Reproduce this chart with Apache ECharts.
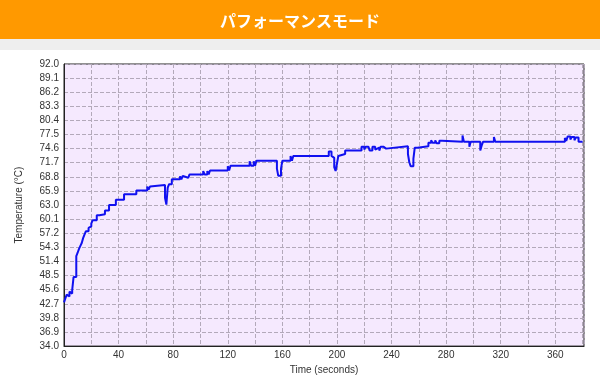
<!DOCTYPE html>
<html>
<head>
<meta charset="utf-8">
<script src="https://cdn.jsdelivr.net/npm/echarts@6/dist/echarts.min.js"></script>
<style>
html,body{margin:0;padding:0;background:#fff;}
#c{width:600px;height:380px;}
</style>
</head>
<body>
<div id="c"></div>
<script>
var titleText = 'パフォーマンスモード';
var xName = 'Time (seconds)';
var yName = 'Temperature (°C)';
var yTickLabels = ['34.0','36.9','39.8','42.7','45.6','48.5','51.4','54.3','57.2','60.1','63.0','65.9','68.8','71.7','74.6','77.5','80.4','83.3','86.2','89.1','92.0'];
var xTicks = [0,40,80,120,160,200,240,280,320,360];

var times = [0,1,2,3,4,5,6,7,9,10,11,12,13,14,15,16,18,19,20,21,24,26,30,33,38,44,53,61,62,63,64,74,75,76,77,79,85,86,87,88,91,92,102,103,105,106,107,120,121,122,136,137,139,140,141,156,157,159,160,166,167,168,194,196,197,198,199,200,201,202,206,218,220,221,223,224,226,228,229,231,232,234,236,237,252,253,254,256,257,259,267,269,270,272,273,275,277,292,293,297,298,305,306,307,315,316,367,368,369,371,372,374,375,377,380];
var temps = [43.0,43.8,44.6,44.2,45.2,44.8,45.5,48.2,52.5,53.2,54.0,54.6,55.2,56.2,56.9,57.6,58.3,58.6,59.2,59.9,60.9,61.1,61.9,63.0,64.1,65.2,66.0,66.8,66.2,66.8,67.1,64.5,63.1,66.6,67.3,68.3,68.9,68.3,69.0,68.6,69.0,69.3,70.0,69.3,70.0,69.3,70.1,71.0,70.1,71.1,72.0,71.1,72.0,71.1,72.1,70.5,69.0,70.5,72.1,73.1,72.1,73.1,74.0,73.1,72.7,70.8,70.0,71.5,73.1,73.5,74.2,75.0,74.4,75.0,74.6,74.2,75.0,74.4,74.8,74.2,75.0,74.6,75.0,75.1,73.5,71.8,71.0,72.5,74.8,75.1,75.8,76.3,75.8,76.3,75.7,76.2,76.0,77.3,76.0,75.0,76.0,74.2,75.2,76.0,77.0,76.0,76.8,76.2,77.1,76.5,77.0,76.3,76.9,76.0,76.0];

var seriesData = times.map(function(t,i){return [t, temps[i]];});
var yTickValues = yTickLabels.map(Number);

var chart = echarts.init(document.getElementById('c'), null, {renderer:'canvas'});
var labelFont = {color:'#333', fontFamily:'Liberation Sans, Arial, sans-serif', fontSize:10};
chart.setOption({
  animation:false,
  backgroundColor:'#ffffff',
  graphic:[
    {type:'rect', shape:{x:0,y:0,width:600,height:39}, style:{fill:'#FF9900'}, z:0},
    {type:'rect', shape:{x:0,y:39,width:600,height:11}, style:{fill:'#EEEEEE'}, z:0}
  ],
  title:{
    text:titleText, left:'center', top:8,
    textStyle:{color:'#ffffff', fontSize:16, fontWeight:'bold', fontFamily:'Noto Sans CJK JP, sans-serif'}
  },
  grid:{left:64, right:16, top:64, bottom:28, show:true, backgroundColor:'#F5E9FE', borderColor:'#222', borderWidth:1, containLabel:false},
  xAxis:{
    type:'value', min:0, max:381, interval:20,
    name:xName, nameLocation:'middle', nameGap:18,
    nameTextStyle:labelFont,
    axisLine:{show:true, lineStyle:{color:'#222'}},
    axisTick:{show:false},
    axisLabel:Object.assign({margin:4, formatter:function(v){return (xTicks.indexOf(v)>=0)?String(v):'';}}, labelFont),
    splitLine:{show:true, lineStyle:{color:'#B3A9BA', type:'dashed', width:1}}
  },
  yAxis:{
    type:'value', min:34, max:92,
    name:yName, nameLocation:'middle', nameGap:40,
    nameTextStyle:labelFont,
    axisLine:{show:true, lineStyle:{color:'#222'}},
    axisTick:{show:false, customValues:yTickValues},
    axisLabel:Object.assign({margin:5, customValues:yTickValues, formatter:function(v){return v.toFixed(1);}}, labelFont),
    splitLine:{show:true, lineStyle:{color:'#B3A9BA', type:'dashed', width:1}}
  },
  series:[{
    type:'line', data:seriesData, step:'end', showSymbol:false, symbol:'none',
    lineStyle:{color:'#1010F0', width:2}, z:5
  }]
});
</script>
</body>
</html>
